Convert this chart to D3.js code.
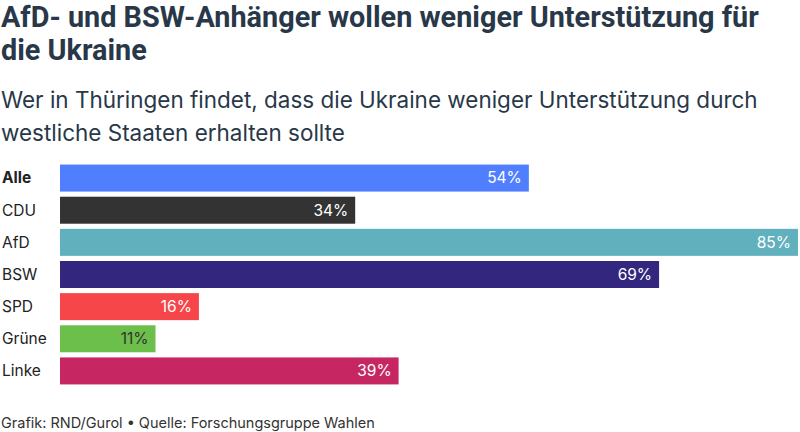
<!DOCTYPE html>
<html><head><meta charset="utf-8">
<script src="https://cdn.jsdelivr.net/npm/d3@7"></script>
<style>
html,body{margin:0;padding:0;background:#fff;}
svg{display:block;}
</style></head>
<body><svg id="c" width="800" height="432"></svg>
<script>
const categories = ["Alle","CDU","AfD","BSW","SPD","Grüne","Linke"];
const values = [54,34,85,69,16,11,39];
const colors = ["#4f7fff","#333333","#60b0bd","#32267f","#f64649","#6bbf4a","#c62763"];
const labelColors = ["#fff","#fff","#fff","#fff","#fff","#333","#fff"];
const titleLines = ["AfD- und BSW-Anhänger wollen weniger Unterstützung für","die Ukraine"];
const subtitleLines = ["Wer in Thüringen findet, dass die Ukraine weniger Unterstützung durch","westliche Staaten erhalten sollte"];
const footer = "Grafik: RND/Gurol • Quelle: Forschungsgruppe Wahlen";

const svg = d3.select("#c");
const ink = "#293849";

function fitText(sel, target){
  const w = sel.node().getComputedTextLength();
  const fs = parseFloat(sel.attr("font-size"));
  sel.attr("font-size", (fs*target/w).toFixed(2));
}

const t1 = svg.append("text").attr("x",1).attr("y",27).attr("font-family","Roboto").attr("font-weight",700)
  .attr("font-size",27).attr("fill",ink).text(titleLines[0]);
fitText(t1, 758);
const fsT = t1.attr("font-size");
svg.append("text").attr("x",1).attr("y",60).attr("font-family","Roboto").attr("font-weight",700)
  .attr("font-size",fsT).attr("fill",ink).text(titleLines[1]);

const s1 = svg.append("text").attr("x",1).attr("y",108).attr("font-family","Inter").attr("font-weight",400)
  .attr("font-size",21).attr("fill",ink).text(subtitleLines[0]);
fitText(s1, 757);
svg.append("text").attr("x",1).attr("y",141).attr("font-family","Inter").attr("font-weight",400)
  .attr("font-size",s1.attr("font-size")).attr("fill",ink).text(subtitleLines[1]);

const x = d3.scaleLinear().domain([0,85]).range([60,798]);
const y = d3.scaleBand().domain(categories).range([162,387]).paddingInner(0.16).paddingOuter(0.08);

const g = svg.append("g");
g.selectAll("rect").data(categories).join("rect")
  .attr("x",x(0)).attr("y",d=>y(d)).attr("width",(d,i)=>x(values[i])-x(0)).attr("height",y.bandwidth())
  .attr("fill",(d,i)=>colors[i]);

g.selectAll("text.cat").data(categories).join("text").attr("class","cat")
  .attr("x",2).attr("y",d=>y(d)+y.bandwidth()/2).attr("dy","0.35em")
  .attr("font-family","Inter").attr("font-size",15.5).attr("font-weight",(d,i)=>i===0?700:400)
  .attr("fill","#222").text(d=>d);

g.selectAll("text.val").data(categories).join("text").attr("class","val")
  .attr("x",(d,i)=>x(values[i])-7).attr("y",d=>y(d)+y.bandwidth()/2).attr("dy","0.35em")
  .attr("text-anchor","end").attr("font-family","Inter").attr("font-size",15.5)
  .attr("fill",(d,i)=>labelColors[i]).text((d,i)=>values[i]+"%");

const f = svg.append("text").attr("x",1).attr("y",427.5).attr("font-family","Inter").attr("font-size",13.5)
  .attr("fill","#333").text(footer);
fitText(f, 374);
</script></body></html>
